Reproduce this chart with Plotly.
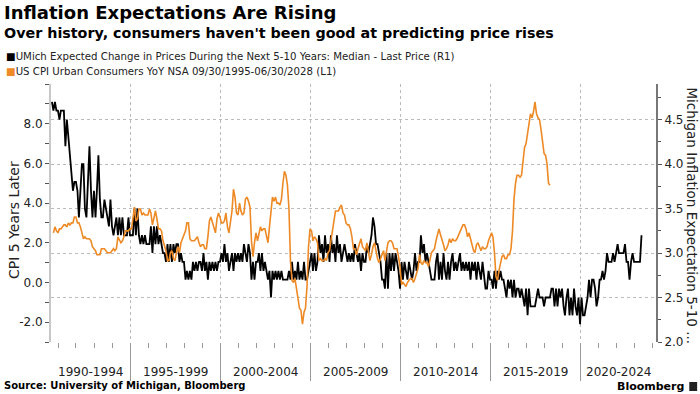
import pandas as pd
import plotly.graph_objects as go

# ---------------- data ----------------
# UMich expected change in prices during next 5-10 yrs (median), monthly from Aug 1990 (right axis)
umich_start = "1990-08-31"
umich = [
    4.7, 4.6, 4.7, 4.6, 4.6,
    4.5, 4.6, 4.6, 4.6, 4.2, 4.5, 4.3, 4.1, 3.9, 3.7, 3.8, 3.8,
    3.7, 3.4, 3.7, 4.0, 4.0, 3.5, 3.4, 3.8, 4.2, 3.7, 3.4, 3.7,
    3.4, 3.7, 4.1, 3.6, 3.4, 3.4, 3.6, 3.5, 3.4, 3.3, 3.6, 3.3,
    3.2, 3.3, 3.4, 3.2, 3.4, 3.2, 3.4, 3.2, 3.2, 3.2, 3.4, 3.2,
    3.2, 3.2, 3.5, 3.2, 3.5, 3.2, 3.1, 3.2, 3.1, 3.2, 3.1, 3.1,
    3.1, 3.3, 3.0, 3.3, 3.1, 3.3, 3.1, 3.2, 3.1, 3.0, 3.0, 2.9,
    3.1, 2.9, 3.1, 2.9, 3.1, 3.0, 3.1, 3.1, 2.9, 3.0, 2.9, 2.9,
    2.7, 2.8, 2.7, 2.8, 2.7, 2.9, 2.8, 2.9, 2.8, 2.9, 2.9, 2.8,
    3.0, 2.8, 2.9, 2.7, 2.9, 2.8, 2.9, 2.8, 2.9, 2.8, 2.9, 2.9,
    3.0, 2.9, 3.1, 2.9, 3.0, 2.8, 2.9, 3.0, 2.8, 3.0, 2.9, 3.0,
    2.9, 3.0, 2.9, 3.1, 3.0, 2.9, 3.1, 3.0, 2.7, 2.9, 2.7, 2.9,
    2.9, 3.0, 2.8, 3.0, 2.8, 2.9, 2.8, 2.7, 2.8, 2.5, 2.8, 2.7,
    2.8, 2.7, 2.8, 2.7, 2.8, 2.7, 2.7, 2.7, 2.7, 2.8, 2.7, 2.9,
    2.7, 2.8, 2.7, 2.9, 2.7, 2.8, 2.7, 2.9, 2.7, 2.7, 2.8, 2.9,
    3.0, 2.8, 3.0, 2.8, 2.9, 3.2, 3.0, 3.1, 2.9, 3.2, 3.0, 3.1,
    2.9, 3.2, 3.0, 3.1, 2.9, 3.2, 3.0, 3.1, 2.9, 3.0, 3.1, 3.0,
    2.9, 3.0, 2.9, 3.0, 2.9, 3.1, 3.0, 2.9, 3.0, 2.8, 3.0, 2.9,
    2.9, 3.1, 3.0, 3.1, 3.2, 3.4, 3.3, 3.1, 3.1, 3.0, 2.9, 2.7,
    2.7, 2.6, 3.0, 2.6, 3.0, 2.8, 3.0, 2.8, 3.0, 2.9, 2.8, 2.6,
    2.9, 2.7, 2.9, 2.8, 2.7, 2.9, 2.8, 2.7, 2.8, 3.0, 2.8, 2.9,
    2.9, 3.2, 3.0, 3.1, 2.9, 3.0, 2.9, 2.8, 2.7, 2.7, 2.7, 2.9,
    3.0, 2.7, 2.9, 2.7, 3.0, 2.8, 2.7, 2.9, 2.7, 2.9, 3.0, 2.8,
    2.9, 2.8, 2.9, 3.0, 2.8, 2.9, 2.8, 2.9, 2.8, 2.9, 2.7, 2.9,
    2.8, 2.9, 2.7, 2.9, 2.8, 2.7, 2.9, 2.7, 2.6, 2.6, 2.8, 2.7,
    2.7, 2.6, 2.8, 2.6, 2.8, 2.7, 2.8, 2.7, 2.7, 2.6, 2.5, 2.7,
    2.6, 2.7, 2.5, 2.7, 2.5, 2.6, 2.6, 2.5, 2.6, 2.5, 2.4, 2.6,
    2.3, 2.6, 2.4, 2.4, 2.4, 2.4, 2.5, 2.6, 2.5, 2.5, 2.5, 2.4,
    2.5, 2.5, 2.5, 2.5, 2.6, 2.6, 2.4, 2.6, 2.4, 2.6, 2.5, 2.6,
    2.4, 2.3, 2.5, 2.6, 2.3, 2.5, 2.3, 2.6, 2.4, 2.3, 2.5, 2.2,
    2.5, 2.3, 2.3, 2.4, 2.5, 2.7, 2.5, 2.7, 2.7, 2.6, 2.4, 2.5,
    2.7, 2.7, 2.8, 2.7, 2.8, 3.0, 2.9, 2.9, 2.9, 3.0, 2.9, 3.0,
    3.1, 3.0, 3.0, 3.0, 3.0, 3.1, 2.9, 2.9, 2.7, 2.9, 3.0, 2.9,
    2.9, 2.9, 2.9, 2.9, 3.2,
]

# US CPI YoY (NSA), Sep 1995 - Apr 2023, plotted 5 years earlier (left axis)
cpi_start = "1990-09-30"
cpi = [
    2.5, 2.8, 2.6, 2.5,
    2.7, 2.7, 2.8, 2.9, 2.9, 2.8, 3.0, 2.9, 3.0, 3.0, 3.3, 3.3,
    3.0, 3.0, 2.8, 2.5, 2.2, 2.3, 2.2, 2.2, 2.2, 2.1, 1.8, 1.7,
    1.6, 1.4, 1.4, 1.4, 1.7, 1.7, 1.7, 1.6, 1.5, 1.5, 1.5, 1.6,
    1.7, 1.6, 1.7, 2.3, 2.1, 2.0, 2.1, 2.3, 2.6, 2.6, 2.6, 2.7,
    2.7, 3.2, 3.8, 3.1, 3.2, 3.7, 3.7, 3.4, 3.5, 3.4, 3.4, 3.4,
    3.7, 3.5, 2.9, 3.3, 3.6, 3.2, 2.7, 2.7, 2.6, 2.1, 1.9, 1.6,
    1.1, 1.1, 1.5, 1.6, 1.2, 1.1, 1.5, 1.8, 1.5, 2.0, 2.2, 2.4,
    2.6, 3.0, 3.0, 2.2, 2.1, 2.1, 2.1, 2.2, 2.3, 2.0, 1.8, 1.9,
    1.9, 1.7, 1.7, 2.3, 3.1, 3.3, 3.0, 2.7, 2.5, 3.2, 3.5, 3.3,
    3.0, 3.0, 3.1, 3.5, 2.8, 2.5, 3.2, 3.6, 4.7, 4.3, 3.5, 3.4,
    4.0, 3.6, 3.4, 3.5, 4.2, 4.3, 4.1, 3.8, 2.1, 1.3, 2.0, 2.5,
    2.1, 2.4, 2.8, 2.6, 2.7, 2.7, 2.4, 2.0, 2.8, 3.5, 4.3, 4.1,
    4.3, 4.0, 4.0, 3.9, 4.2, 5.0, 5.6, 5.4, 4.9, 3.7, 1.1, 0.1,
    0.0, 0.2, -0.4, -0.7, -1.3, -1.4, -2.1, -1.5, -1.3, -0.2, 1.8, 2.7,
    2.6, 2.1, 2.3, 2.2, 2.0, 1.1, 1.2, 1.1, 1.1, 1.2, 1.1, 1.5,
    1.6, 2.1, 2.7, 3.2, 3.6, 3.6, 3.6, 3.8, 3.9, 3.5, 3.4, 3.0,
    2.9, 2.9, 2.7, 2.3, 1.7, 1.7, 1.4, 1.7, 2.0, 2.2, 1.8, 1.7,
    1.6, 2.0, 1.5, 1.1, 1.4, 1.8, 2.0, 1.5, 1.2, 1.0, 1.2, 1.5,
    1.6, 1.1, 1.5, 2.0, 2.1, 2.1, 2.0, 1.7, 1.7, 1.7, 1.3, 0.8,
    -0.1, 0.0, -0.1, -0.2, 0.0, 0.1, 0.2, 0.2, 0.0, 0.2, 0.5, 0.7,
    1.4, 1.0, 0.9, 1.1, 1.0, 1.0, 0.8, 1.1, 1.5, 1.6, 1.7, 2.1,
    2.5, 2.7, 2.4, 2.2, 1.9, 1.6, 1.7, 1.9, 2.2, 2.0, 2.2, 2.1,
    2.1, 2.2, 2.4, 2.5, 2.8, 2.9, 2.9, 2.7, 2.3, 2.5, 2.2, 1.9,
    1.6, 1.5, 1.9, 2.0, 1.8, 1.6, 1.8, 1.7, 1.7, 1.8, 2.1, 2.3,
    2.5, 2.3, 1.5, 0.3, 0.1, 0.6, 1.0, 1.3, 1.4, 1.2, 1.2, 1.4,
    1.4, 1.7, 2.6, 4.2, 5.0, 5.4, 5.4, 5.3, 5.4, 6.2, 6.8, 7.0,
    7.5, 7.9, 8.5, 8.3, 8.6, 9.1, 8.5, 8.3, 8.2, 7.7, 7.1, 6.5,
    6.4, 6.0, 5.0, 4.9,
]

period_bounds = ["1995-01-01", "2000-01-01", "2005-01-01", "2010-01-01", "2015-01-01", "2020-01-01"]
period_labels = ["1990-1994", "1995-1999", "2000-2004", "2005-2009", "2010-2014", "2015-2019", "2020-2024"]
x_range = ["1990-08-12", "2024-03-20"]

left_ticks = [-3, -2, -1, 0, 1, 2, 3, 4, 5, 6, 7, 8, 9, 10]
right_ticks = [2.0, 2.5, 3.0, 3.5, 4.0, 4.5]

umich_dates = pd.date_range(umich_start, periods=len(umich), freq="ME")
cpi_dates = pd.date_range(cpi_start, periods=len(cpi), freq="ME")

BLACK = "#000000"
ORANGE = "#EE8A26"
FONT = "DejaVu Sans, Verdana, sans-serif"

fig = go.Figure()
fig.add_trace(go.Scatter(x=umich_dates, y=umich, mode="lines", yaxis="y",
                         line=dict(color=BLACK, width=1.8), name="UMich"))
fig.add_trace(go.Scatter(x=cpi_dates, y=cpi, mode="lines", yaxis="y2",
                         line=dict(color=ORANGE, width=1.6), name="CPI"))

fig.update_layout(
    width=700, height=394,
    margin=dict(l=51, r=44, t=84, b=52, pad=0),
    paper_bgcolor="white", plot_bgcolor="white",
    showlegend=False,
    font=dict(family=FONT, color="#222", size=12),
    xaxis=dict(
        type="date", range=x_range,
        tickvals=period_bounds, showticklabels=False,
        ticks="outside", ticklen=38, tickcolor="#999", tickwidth=1,
        showgrid=True, gridcolor="#bbb", griddash="dot", gridwidth=1,
        showline=False, zeroline=False,
        minor=dict(dtick="M12", tick0="1990-01-01", ticks="outside", ticklen=5,
                   tickcolor="#999", showgrid=False),
    ),
    yaxis=dict(
        side="right", range=[2.0, 4.9],
        tickvals=right_ticks, ticktext=[f"{v:.1f}" for v in right_ticks],
        ticks="outside", ticklen=4, tickcolor="#555",
        minor=dict(dtick=0.25, tick0=2.0, ticks="outside", ticklen=3, tickcolor="#555", showgrid=False),
        showgrid=True, gridcolor="#bbb", griddash="dot", gridwidth=1,
        showline=True, linecolor="#777", linewidth=2,
        zeroline=False, tickfont=dict(size=12, color="#222"),
    ),
    yaxis2=dict(
        overlaying="y", side="left", range=[-3, 10],
        tickvals=left_ticks,
        ticktext=[f"{v:.1f}" if (v % 2 == 0 and -2 <= v <= 8) else "" for v in left_ticks],
        ticks="outside", ticklen=4, tickcolor="#555",
        showgrid=False, showline=True, linecolor="#c8c8c8", linewidth=2,
        zeroline=False, tickfont=dict(size=12, color="#222"),
    ),
)

# period labels centred in visible part of each 5-year block
edges = [pd.Timestamp(x_range[0])] + [pd.Timestamp(b) for b in period_bounds] + [pd.Timestamp(x_range[1])]
for i, lab in enumerate(period_labels):
    mid = edges[i] + (edges[i + 1] - edges[i]) / 2
    fig.add_annotation(x=mid, xref="x", y=-0.115, yref="paper", text=lab, showarrow=False,
                       font=dict(size=12, color="#222"), xanchor="center", yanchor="middle")

# titles
fig.add_annotation(xref="paper", yref="paper", x=-0.081, y=1.279, xanchor="left", yanchor="middle",
                   text="<b>Inflation Expectations Are Rising</b>", showarrow=False,
                   font=dict(size=18, color="#000"))
fig.add_annotation(xref="paper", yref="paper", x=-0.081, y=1.198, xanchor="left", yanchor="middle",
                   text="<b>Over history, consumers haven't been good at predicting price rises</b>",
                   showarrow=False, font=dict(size=14.3, color="#000"))

# legend
fig.add_annotation(xref="paper", yref="paper", x=-0.078, y=1.105, xanchor="left", yanchor="middle",
                   text="<span style='color:#000'>■</span>UMich Expected Change in Prices During the Next 5-10 Years: Median - Last Price (R1)",
                   showarrow=False, font=dict(size=10.2, color="#222"))
fig.add_annotation(xref="paper", yref="paper", x=-0.078, y=1.050, xanchor="left", yanchor="middle",
                   text=f"<span style='color:{ORANGE}'>■</span>US CPI Urban Consumers YoY NSA 09/30/1995-06/30/2028 (L1)",
                   showarrow=False, font=dict(size=10.2, color="#222"))

# axis titles
fig.add_annotation(xref="paper", yref="paper", x=-0.061, y=0.473, xanchor="center", yanchor="middle",
                   text="CPI 5 Years Later", textangle=-90, showarrow=False,
                   font=dict(size=14, color="#222"))
fig.add_annotation(xref="paper", yref="paper", x=1.059, y=0.488, xanchor="center", yanchor="middle",
                   text="Michigan Inflation Expectation 5-10 ...", textangle=90, showarrow=False,
                   font=dict(size=13.5, color="#222"))

# footer
fig.add_annotation(xref="paper", yref="paper", x=-0.081, y=-0.167, xanchor="left", yanchor="middle",
                   text="<b>Source: University of Michigan, Bloomberg</b>", showarrow=False,
                   font=dict(size=10, color="#000"))
fig.add_annotation(xref="paper", yref="paper", x=1.0496, y=-0.172, xanchor="right", yanchor="middle",
                   text="<b>Bloomberg</b>", showarrow=False, font=dict(size=11, color="#000"))
fig.add_shape(type="rect", xref="paper", yref="paper", x0=1.055, x1=1.068, y0=-0.19, y1=-0.155,
              fillcolor="#222", line=dict(width=0))

fig.write_html("out.html", config={"displayModeBar": False},
               post_script="document.body.style.margin='0';document.body.style.overflow='hidden';")
